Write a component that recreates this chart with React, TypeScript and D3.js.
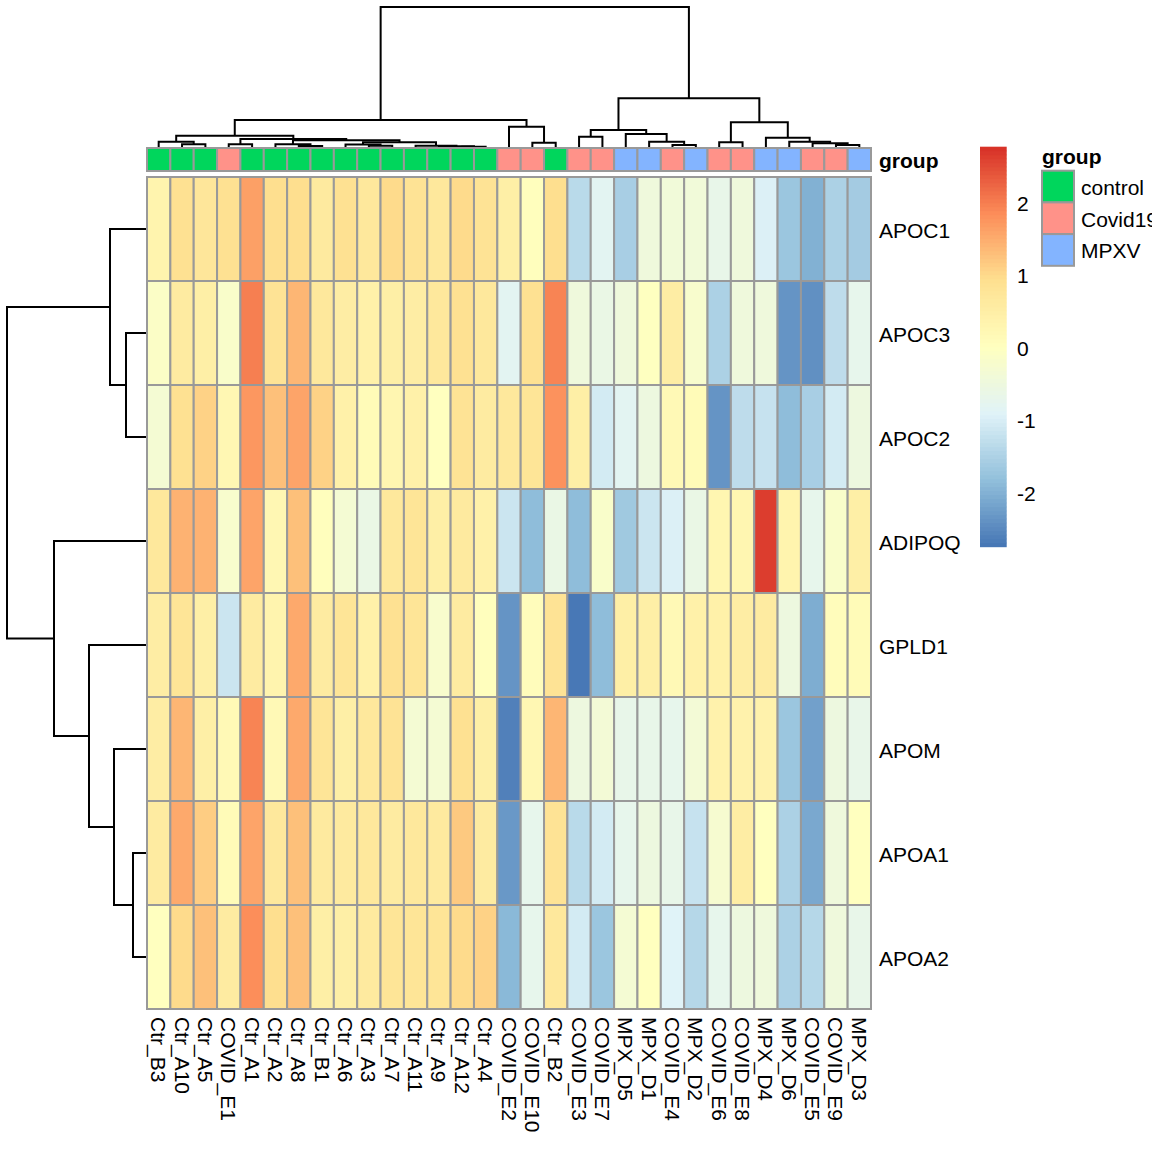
import * as d3 from 'd3';

// column order as drawn (leaf order of the column dendrogram)
const colLabels = [
  'Ctr_B3', 'Ctr_A10', 'Ctr_A5', 'COVID_E1', 'Ctr_A1', 'Ctr_A2', 'Ctr_A8', 'Ctr_B1',
  'Ctr_A6', 'Ctr_A3', 'Ctr_A7', 'Ctr_A11', 'Ctr_A9', 'Ctr_A12', 'Ctr_A4', 'COVID_E2',
  'COVID_E10', 'Ctr_B2', 'COVID_E3', 'COVID_E7', 'MPX_D5', 'MPX_D1', 'COVID_E4', 'MPX_D2',
  'COVID_E6', 'COVID_E8', 'MPX_D4', 'MPX_D6', 'COVID_E5', 'COVID_E9', 'MPX_D3',
];
const colGroup = [
  'control', 'control', 'control', 'Covid19', 'control', 'control', 'control', 'control',
  'control', 'control', 'control', 'control', 'control', 'control', 'control', 'Covid19',
  'Covid19', 'control', 'Covid19', 'Covid19', 'MPXV', 'MPXV', 'Covid19', 'MPXV',
  'Covid19', 'Covid19', 'MPXV', 'MPXV', 'Covid19', 'Covid19', 'MPXV',
];
const groups = ['control', 'Covid19', 'MPXV'];
const groupColors = ['#00D65C', '#FF9289', '#83B4FF'];

const rowLabels = ['APOC1', 'APOC3', 'APOC2', 'ADIPOQ', 'GPLD1', 'APOM', 'APOA1', 'APOA2'];

// row-scaled values
const apoc1 = [0.35, 0.9, 0.75, 0.9, 1.65, 0.95, 0.95, 0.65, 0.9, 0.7, 1.0, 0.85, 0.7, 1.0, 0.85, 0.5,
  0.05, 0.95, -1.35, -0.8, -1.55, -0.45, -0.4, -0.4, -0.65, -0.45, -0.95, -1.7, -2.0, -1.5, -1.6];
const apoc3 = [-0.1, 0.6, 0.5, -0.15, 2.0, 0.85, 1.4, 0.7, 0.55, 0.45, 0.5, 0.55, 0.7, 0.9, 0.7, -0.8,
  0.9, 1.95, -0.45, -0.6, -0.45, 0.0, 0.55, -0.2, -1.5, -0.45, -0.45, -2.35, -2.4, -1.3, -0.7];
const apoc2 = [-0.3, 0.9, 1.1, 0.25, 1.75, 1.3, 1.6, 1.1, 0.45, 0.15, 0.3, 0.45, 0.02, 0.85, 0.6, 0.7,
  0.8, 1.8, 0.5, -1.05, -0.8, -0.5, 0.2, 0.15, -2.35, -1.3, -1.2, -1.85, -1.55, -1.05, -0.5];
const adipoq = [0.7, 1.45, 1.45, -0.2, 1.6, 0.25, 1.3, 0.05, -0.3, -0.6, 0.7, 0.8, 0.5, 0.65, 0.45, -1.15,
  -1.85, -0.6, -1.85, -0.15, -1.65, -1.15, -0.95, -0.6, 0.3, 0.3, 2.65, 0.35, -0.7, -0.15, 0.5];
const gpld1 = [0.55, 0.8, 0.5, -1.15, 0.6, 0.35, 1.55, 0.6, 0.8, 0.45, 0.9, 0.8, -0.2, 0.6, 0.05, -2.35,
  0.1, 0.85, -2.7, -1.85, 0.5, 0.5, 0.2, 0.45, 0.45, 0.55, 0.6, -0.5, -2.05, 0.1, 0.15];
const apom = [0.55, 1.4, 0.5, 0.2, 1.95, 0.2, 1.55, 0.8, 0.5, 0.7, 0.85, -0.3, -0.3, 0.9, 0.5, -2.6,
  0.25, 1.4, -0.5, -0.35, -0.65, -0.65, -0.7, -0.35, 0.4, 0.4, 0.4, -1.7, -2.2, -0.5, -0.65];
const apoa1 = [0.6, 1.55, 1.15, 0.15, 1.6, 0.7, 1.3, 0.65, 0.65, 0.7, 0.6, 0.7, 0.65, 1.2, 0.6, -2.3,
  -0.7, 0.85, -1.35, -1.05, -0.7, -0.5, -0.65, -1.2, -0.25, 0.55, 0.02, -1.5, -2.1, -0.45, 0.02];
const apoa2 = [0.02, 1.0, 1.3, 0.6, 1.85, 0.95, 1.3, 0.5, 0.5, 0.65, 0.8, 0.8, 0.8, 1.0, 1.1, -1.9,
  -0.7, 0.7, -1.05, -1.7, -0.3, 0.02, -0.9, -1.4, -0.7, -0.5, -0.45, -1.5, -1.4, -0.45, -0.65];
const matrix = [apoc1, apoc3, apoc2, adipoq, gpld1, apom, apoa1, apoa2];

// hclust-style merges: negative = leaf (1-based), positive = earlier merge (1-based)
const colMerge = [
  [-14, -15], [-13, 1], [-12, 2], [-10, -11], [-9, 4], [5, 3], [-7, -8], [-6, 7], [8, 6],
  [-4, -5], [10, 9], [-2, -3], [-1, 12], [13, 11], [-17, -18], [-16, 15], [14, 16],
  [-23, -24], [-22, 18], [-21, 19], [-19, -20], [21, 20], [-25, -26], [-30, -31], [-29, 24],
  [-28, 25], [-27, 26], [23, 27], [22, 28], [17, 29],
];
const colHeight = [
  0.04, 0.065, 0.09, 0.09, 0.15, 0.26, 0.075, 0.16, 0.36, 0.16, 0.425, 0.16, 0.29, 0.59,
  0.24, 1.04, 1.375, 0.125, 0.29, 0.675, 0.54, 0.875, 0.26, 0.125, 0.21, 0.29, 0.49, 1.26,
  2.46, 7.025,
];
const rowMerge = [[-7, -8], [-2, -3], [-6, 1], [-1, 2], [-5, 3], [-4, 5], [4, 6]];
const rowHeight = [0.675, 1.025, 1.625, 1.825, 2.875, 4.625, 6.975];

// colour key
const paletteStops = ['#4575B4', '#91BFDB', '#E0F3F8', '#FFFFBF', '#FEE090', '#FC8D59', '#D73027'];
const colorDomain = [-2.74, 2.78];
const legendTicks = [-2, -1, 0, 1, 2];

const W = 1152;
const H = 1152;
const FONT = "'Liberation Sans', Arial, sans-serif";
const FS = 21;

type Node = { pos: number; h: number };

function dendroSegments(
  merge: number[][],
  height: number[],
  leafPos: (i: number) => number,
  hScale: d3.ScaleLinear<number, number>,
  horizontal: boolean,
) {
  const nodes: Node[] = [];
  const get = (k: number): Node => (k < 0 ? { pos: leafPos(-k - 1), h: 0 } : nodes[k - 1]);
  const paths: string[] = [];
  merge.forEach(([a, b], i) => {
    const na = get(a);
    const nb = get(b);
    const h = height[i];
    const p = d3.path();
    if (horizontal) {
      p.moveTo(na.pos, hScale(na.h));
      p.lineTo(na.pos, hScale(h));
      p.lineTo(nb.pos, hScale(h));
      p.lineTo(nb.pos, hScale(nb.h));
    } else {
      p.moveTo(hScale(na.h), na.pos);
      p.lineTo(hScale(h), na.pos);
      p.lineTo(hScale(h), nb.pos);
      p.lineTo(hScale(nb.h), nb.pos);
    }
    paths.push(p.toString());
    nodes.push({ pos: (na.pos + nb.pos) / 2, h });
  });
  return paths;
}

export default function App() {
  const x = d3.scaleBand<string>().domain(colLabels).range([147, 871]);
  const y = d3.scaleBand<string>().domain(rowLabels).range([177, 1009]);
  const cx = (i: number) => (x(colLabels[i]) ?? 0) + x.bandwidth() / 2;
  const cy = (i: number) => (y(rowLabels[i]) ?? 0) + y.bandwidth() / 2;

  const [lo, hi] = colorDomain;
  const stopVals = paletteStops.map((_, i) => lo + (i * (hi - lo)) / (paletteStops.length - 1));
  const color = d3.scaleLinear<string>().domain(stopVals).range(paletteStops)
    .interpolate(d3.interpolateRgb).clamp(true);
  const groupColor = d3.scaleOrdinal<string, string>().domain(groups).range(groupColors);

  const colH = d3.scaleLinear().domain([0, d3.max(colHeight) ?? 1]).range([147.5, 7]);
  const rowH = d3.scaleLinear().domain([0, d3.max(rowHeight) ?? 1]).range([146.5, 7]);
  const colPaths = dendroSegments(colMerge, colHeight, cx, colH, true);
  const rowPaths = dendroSegments(rowMerge, rowHeight, cy, rowH, false);

  const keyY = d3.scaleLinear().domain(colorDomain).range([546.7, 146.7]);
  const keySteps = d3.range(100).map(i => lo + ((i + 0.5) * (hi - lo)) / 100);
  const stepH = (keyY(lo) - keyY(hi)) / 100;

  const annTop = 148;
  const annH = 23;
  const legX = 1042;
  const legBox = 31.7;
  const legTop = 170.7;

  return (
    <svg width={W} height={H} style={{ position: 'absolute', left: 0, top: 0, background: '#fff' }}
      fontFamily={FONT}>
      <rect width={W} height={H} fill="#fff" />

      {/* dendrograms */}
      <g fill="none" stroke="#000" strokeWidth={2}>
        {colPaths.map((d, i) => <path key={`c${i}`} d={d} />)}
        {rowPaths.map((d, i) => <path key={`r${i}`} d={d} />)}
      </g>

      {/* annotation bar */}
      <g stroke="#999999" strokeWidth={2}>
        {colLabels.map((c, i) => (
          <rect key={c} x={x(c)} y={annTop} width={x.bandwidth()} height={annH}
            fill={groupColor(colGroup[i])} />
        ))}
      </g>
      <text x={879} y={annTop + annH / 2 + 1} dominantBaseline="central" fontSize={FS}
        fontWeight="bold">group</text>

      {/* heatmap cells */}
      <g stroke="#999999" strokeWidth={2}>
        {matrix.map((row, r) => row.map((v, c) => (
          <rect key={`${r}-${c}`} x={x(colLabels[c])} y={y(rowLabels[r])}
            width={x.bandwidth()} height={y.bandwidth()} fill={color(v)} />
        )))}
      </g>

      {/* row labels */}
      {rowLabels.map((r, i) => (
        <text key={r} x={879} y={cy(i) + 1.5} dominantBaseline="central" fontSize={FS}>{r}</text>
      ))}

      {/* column labels */}
      {colLabels.map((c, i) => (
        <text key={c} transform={`translate(${cx(i)},1017) rotate(90)`}
          dominantBaseline="central" fontSize={FS}>{c}</text>
      ))}

      {/* colour key */}
      <g>
        {keySteps.map((v, i) => (
          <rect key={i} x={980} y={keyY(lo) - (i + 1) * stepH} width={26.7} height={stepH + 0.5}
            fill={color(v)} />
        ))}
        {legendTicks.map(t => (
          <text key={t} x={1017} y={keyY(t)} dominantBaseline="central" fontSize={FS}>{t}</text>
        ))}
      </g>

      {/* group legend */}
      <text x={legX} y={156} dominantBaseline="central" fontSize={FS} fontWeight="bold">group</text>
      {groups.map((g, i) => (
        <g key={g}>
          <rect x={legX} y={legTop + i * legBox} width={32} height={legBox}
            fill={groupColor(g)} stroke="#999999" strokeWidth={2} />
          <text x={1081} y={legTop + (i + 0.5) * legBox + 1} dominantBaseline="central"
            fontSize={FS}>{g}</text>
        </g>
      ))}
    </svg>
  );
}
